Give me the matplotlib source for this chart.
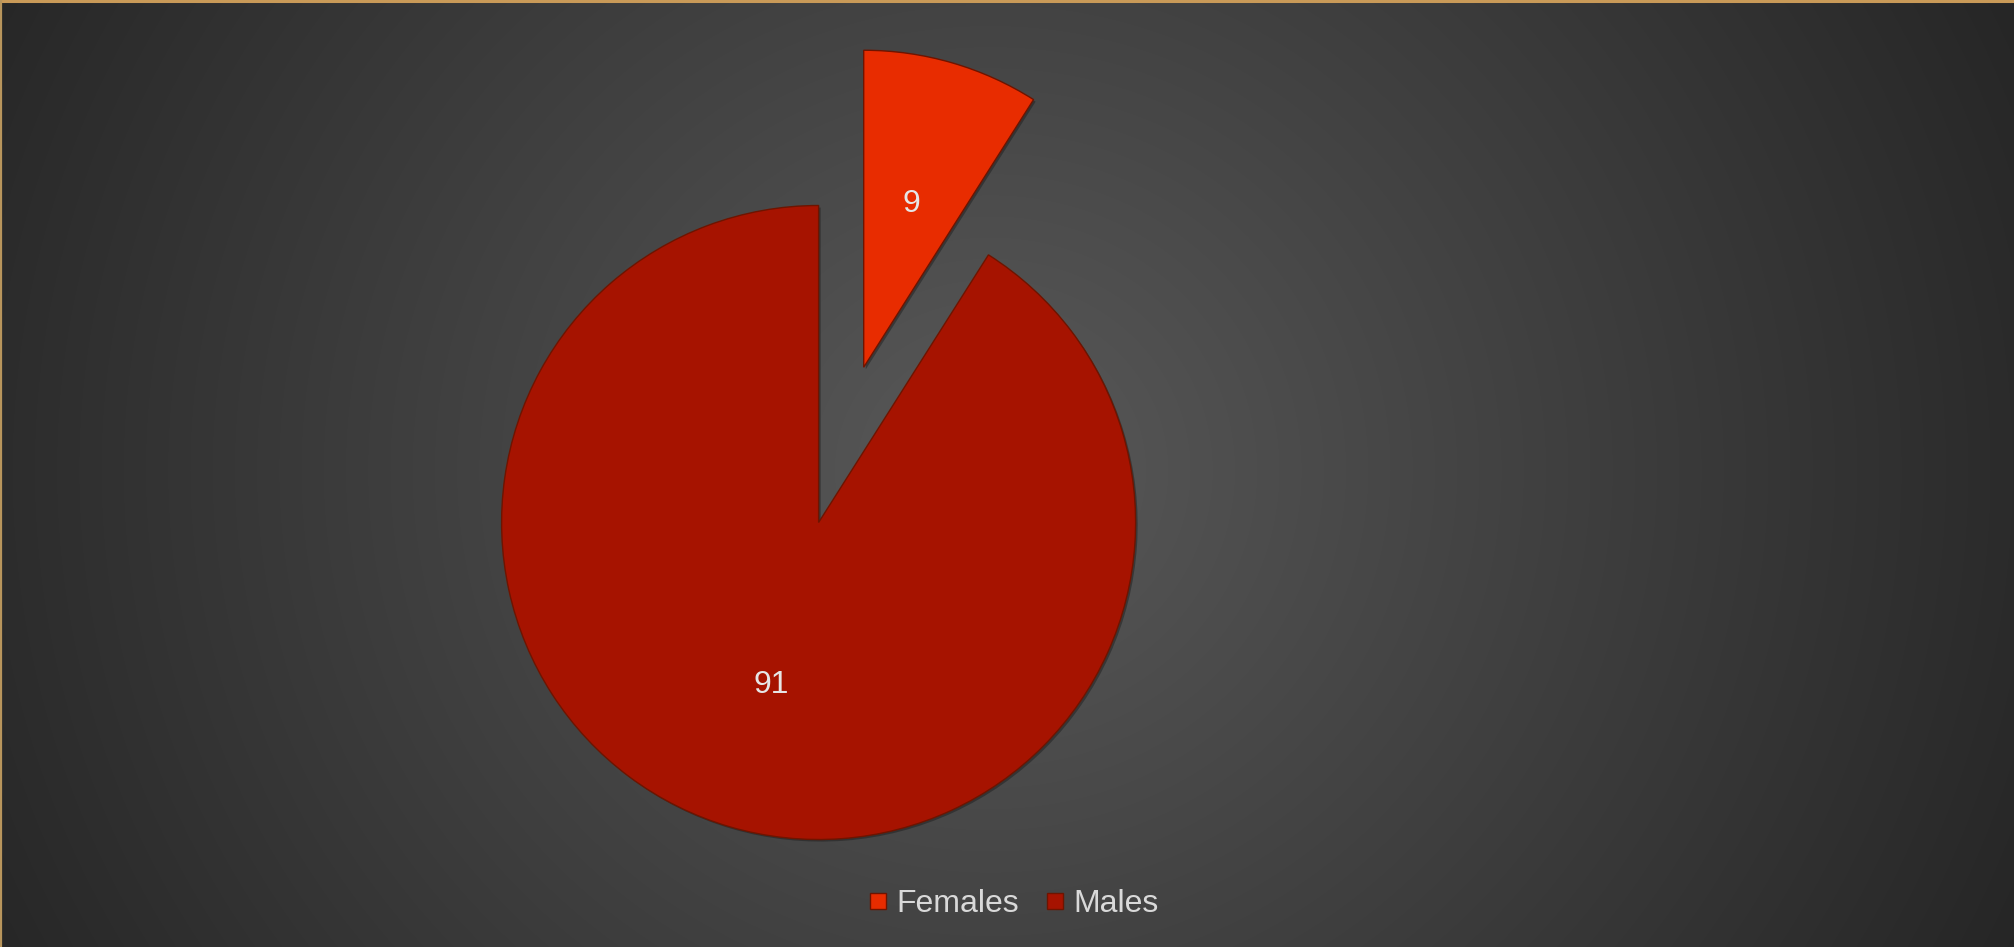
import numpy as np
import matplotlib
matplotlib.use("Agg")
import matplotlib.pyplot as plt
import matplotlib.patheffects as pe
from matplotlib.lines import Line2D

# Gender split
categories = ["Females", "Males"]
values = [9, 91]
colors = ["#E82C00", "#A61300"]
edge_color = "#6E1400"

W, H, DPI = 2015, 947, 100
fig = plt.figure(figsize=(W / DPI, H / DPI), dpi=DPI)

# Radial grey background
bg = fig.add_axes([0, 0, 1, 1])
yy, xx = np.mgrid[0:H, 0:W]
r = np.hypot(xx - 990, (yy - 470) * 1.05) / 1000.0
t = np.clip(r, 0, 1.15)
shade = (89 - 45 * t) / 255.0
img = np.dstack([shade, shade, shade])
bg.imshow(img, extent=[0, W, 0, H], origin="upper", aspect="auto")
bg.set_xlim(0, W)
bg.set_ylim(0, H)
bg.axis("off")
# thin gold frame on top and left
bg.add_line(Line2D([0, W], [H - 1, H - 1], color="#C99A58", lw=2.2))
bg.add_line(Line2D([0.6, 0.6], [0, H], color="#B8955C", lw=1.6))

# Pie axes: unit radius, pie centre at (818, 523) px from top-left
cx, cy, R = 818.6, 947 - 522.5, 317.0
ax = fig.add_axes([0, 0, 1, 1])
ax.set_facecolor("none")

wedges, texts, autotexts = ax.pie(
    values,
    explode=[0.51, 0.0],
    colors=colors,
    startangle=90,
    counterclock=False,
    radius=1.0,
    center=(0, 0),
    autopct="%.0f",
    pctdistance=0.535,
    wedgeprops=dict(edgecolor=edge_color, linewidth=1.0),
    textprops=dict(color="#E6E6E6", fontsize=23, family="Liberation Sans"),
)
ax.set_aspect("auto")
ax.set_xlim(-cx / R, (W - cx) / R)
ax.set_ylim(-cy / R, (H - cy) / R)
ax.axis("off")

for w in wedges:
    w.set_path_effects([
        pe.SimplePatchShadow(offset=(1.5, -1.5), shadow_rgbFace="#1a1a1a", alpha=0.45),
        pe.Normal(),
    ])

handles = [
    Line2D([], [], marker="s", linestyle="none", markersize=12,
           markerfacecolor=c, markeredgecolor=edge_color, markeredgewidth=1.0)
    for c in colors
]
leg = fig.legend(
    handles, categories,
    loc="center", bbox_to_anchor=(1014 / W, 1 - 904 / H),
    ncol=2, frameon=False,
    handlelength=0.55, handletextpad=0.3, columnspacing=0.85,
    prop=dict(family="Liberation Sans", size=23),
)
for txt in leg.get_texts():
    txt.set_color("#D9D9D9")

fig.savefig("out.png", dpi=DPI)
